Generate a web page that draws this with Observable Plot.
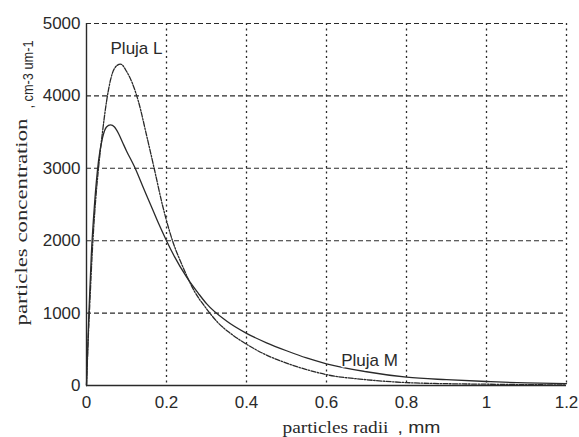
<!DOCTYPE html>
<html>
<head>
<meta charset="utf-8">
<script src="https://cdn.jsdelivr.net/npm/d3@7"></script>
<script src="https://cdn.jsdelivr.net/npm/@observablehq/plot@0.6"></script>
<style>
  html, body { margin: 0; padding: 0; background: #fff; }
</style>
</head>
<body>
<div id="chart"></div>
<script>
// Pluja M (lower peak, heavier tail)
const radiiM = [0, 0.003, 0.006, 0.012, 0.02, 0.03, 0.04, 0.05, 0.06, 0.07, 0.08, 0.09, 0.1, 0.12, 0.14, 0.16, 0.18, 0.2, 0.22, 0.25, 0.28, 0.3, 0.35, 0.4, 0.45, 0.5, 0.55, 0.6, 0.7, 0.8, 0.9, 1.0, 1.1, 1.2];
const concM  = [0, 500, 1000, 1800, 2500, 3100, 3420, 3570, 3600, 3570, 3480, 3360, 3240, 3020, 2760, 2500, 2240, 2000, 1780, 1500, 1270, 1130, 890, 720, 590, 480, 380, 300, 190, 115, 80, 55, 35, 25];

// Pluja L (taller peak, faster decay)
const radiiL = [0, 0.004, 0.008, 0.015, 0.022, 0.03, 0.04, 0.05, 0.06, 0.07, 0.085, 0.1, 0.115, 0.13, 0.15, 0.17, 0.19, 0.215, 0.24, 0.27, 0.3, 0.33, 0.36, 0.4, 0.45, 0.5, 0.55, 0.6, 0.7, 0.8, 0.9, 1.0, 1.1, 1.2];
const concL  = [0, 600, 1100, 1900, 2500, 3000, 3500, 3920, 4220, 4380, 4440, 4340, 4170, 3920, 3460, 2980, 2490, 2000, 1650, 1300, 1060, 860, 720, 570, 420, 310, 220, 150, 80, 40, 25, 18, 12, 8];

const xTicks = [0, 0.2, 0.4, 0.6, 0.8, 1, 1.2];
const xTickLabels = ["0", "0.2", "0.4", "0.6", "0.8", "1", "1.2"];
const yTicks = [0, 1000, 2000, 3000, 4000, 5000];
const yTickLabels = ["0", "1000", "2000", "3000", "4000", "5000"];

const seriesLabels = ["Pluja L", "Pluja M"];
const labelX = [0.125, 0.7075];
const labelY = [4660, 351];

const yTitleMain = "particles concentration";
const yTitleUnit = ", cm-3 um-1";
const xTitleMain = "particles radii";
const xTitleUnit = ", mm";

const dataM = radiiM.map((r, i) => ({r, c: concM[i]}));
const dataL = radiiL.map((r, i) => ({r, c: concL[i]}));
const labels = seriesLabels.map((t, i) => ({t, x: labelX[i], y: labelY[i]}));

const ink = "#2a2a2a";
const sans = "'Liberation Sans', Arial, sans-serif";
const serif = "'Liberation Serif', 'Times New Roman', serif";

const titleOpts = {textAnchor: "middle", lineAnchor: "middle", fill: ink};

const chart = Plot.plot({
  width: 579,
  height: 437,
  marginLeft: 86,
  marginRight: 13,
  marginTop: 23,
  marginBottom: 52,
  style: {fontFamily: sans, fontSize: "17px", color: ink, background: "#fff"},
  x: {domain: [0, 1.2], ticks: xTicks, tickFormat: (d, i) => xTickLabels[i], tickSize: 0, tickPadding: 10, label: null},
  y: {domain: [0, 5000], ticks: yTicks, tickFormat: (d, i) => yTickLabels[i], tickSize: 0, tickPadding: 6, label: null},
  marks: [
    Plot.ruleY(yTicks.filter(d => d > 0), {stroke: ink, strokeWidth: 1.1, strokeDasharray: "5,3"}),
    Plot.ruleX(xTicks.filter(d => d > 0), {stroke: ink, strokeWidth: 1.3, strokeDasharray: "2,3.5"}),
    Plot.ruleX([0], {stroke: ink, strokeWidth: 1.4}),
    Plot.ruleY([0], {stroke: ink, strokeWidth: 1.4}),
    Plot.line(dataM, {x: "r", y: "c", stroke: ink, strokeWidth: 1.3, curve: "monotone-x"}),
    Plot.line(dataL, {x: "r", y: "c", stroke: ink, strokeWidth: 1.3, strokeDasharray: "5,1.5,1.5,1.5", curve: "monotone-x"}),
    Plot.text(labels, {x: "x", y: "y", text: "t", fontSize: 17, fontFamily: sans, fill: ink, stroke: "#fff", strokeWidth: 3, paintOrder: "stroke"}),
    Plot.text([yTitleMain], {...titleOpts, frameAnchor: "left", rotate: -90, dx: -65, dy: 17.5, fontSize: 16, fontFamily: serif}),
    Plot.text([yTitleUnit], {...titleOpts, frameAnchor: "left", rotate: -90, dx: -58, dy: -130, fontSize: 15, fontFamily: sans}),
    Plot.text([xTitleMain], {...titleOpts, frameAnchor: "bottom", dx: 9, dy: 41.6, fontSize: 17, fontFamily: serif}),
    Plot.text([xTitleUnit], {...titleOpts, frameAnchor: "bottom", dx: 92.5, dy: 41.6, fontSize: 17, fontFamily: sans})
  ]
});

const fit = {};
fit[yTitleMain] = 207;
fit[yTitleUnit] = 68;
fit[xTitleMain] = 106;
fit[xTitleUnit] = 43;
d3.select(chart).selectAll("text").each(function() {
  const t = this.textContent;
  if (fit[t]) {
    d3.select(this).attr("textLength", fit[t]).attr("lengthAdjust", "spacingAndGlyphs");
  }
});

document.getElementById("chart").appendChild(chart);
</script>
</body>
</html>
